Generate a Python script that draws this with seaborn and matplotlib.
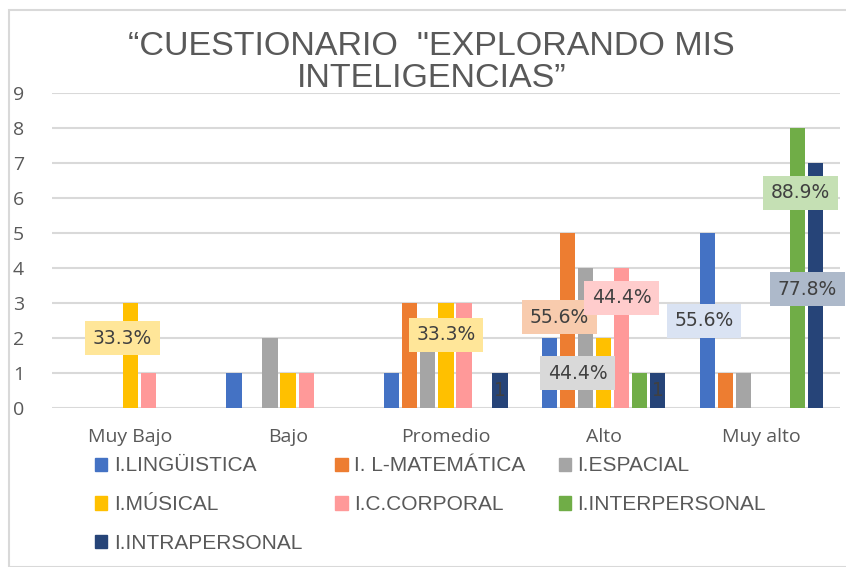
import matplotlib
matplotlib.use('Agg')
import matplotlib.pyplot as plt
from matplotlib.patches import Rectangle
import seaborn as sns
import pandas as pd

# data
categories = ['Muy Bajo', 'Bajo', 'Promedio', 'Alto', 'Muy alto']
series = ['I.LINGÜISTICA', 'I. L-MATEMÁTICA', 'I.ESPACIAL', 'I.MÚSICAL',
          'I.C.CORPORAL', 'I.INTERPERSONAL', 'I.INTRAPERSONAL']
linguistica = [0, 1, 1, 2, 5]
matematica = [0, 0, 3, 5, 1]
espacial = [0, 2, 2, 4, 1]
musical = [3, 1, 3, 2, 0]
corporal = [1, 1, 3, 4, 0]
interpersonal = [0, 0, 0, 1, 8]
intrapersonal = [0, 0, 1, 1, 7]
total = 9

colors = ['#4472C4', '#ED7D31', '#A5A5A5', '#FFC000', '#FF9999', '#70AD47', '#264478']
label_bg = ['#DAE3F3', '#F8CBAD', '#D9D9D9', '#FFE699', '#FFCCCC', '#C5E0B4', '#ADB9CA']

values = [linguistica, matematica, espacial, musical, corporal, interpersonal, intrapersonal]
rows = []
for s, vals in zip(series, values):
    for c, v in zip(categories, vals):
        rows.append({'Nivel': c, 'Inteligencia': s, 'Cantidad': v})
df = pd.DataFrame(rows)

# percentage labels: (series index, category index, label y, x shift)
pct_labels = [(3, 0, 2.0, -0.05), (3, 2, 2.1, 0.0), (1, 3, 2.6, -0.05),
              (2, 3, 1.0, -0.05), (4, 3, 3.15, 0.0), (0, 4, 2.5, -0.02),
              (5, 4, 6.15, 0.02), (6, 4, 3.4, -0.05)]
# count labels that remain visible on the dark bars
count_labels = [(6, 2), (6, 3)]

sns.set_style('white')
plt.rcParams['font.family'] = ['Open Sans', 'DejaVu Sans']

fig = plt.figure(figsize=(8.46, 5.67), dpi=100)
ax = fig.add_axes([0.061, 0.280, 0.932, 0.556])

sns.barplot(data=df, x='Nivel', y='Cantidad', hue='Inteligencia',
            palette=colors, saturation=1, width=0.8, gap=0.15, linewidth=0,
            legend=False, ax=ax)

ax.set_ylim(0, 9)
ax.set_yticks(range(0, 10))
ax.yaxis.grid(True, color='#D9D9D9', linewidth=1.5)
ax.set_axisbelow(True)
for sp in ax.spines.values():
    sp.set_visible(False)
ax.set_xlabel('')
ax.set_ylabel('')
ax.tick_params(axis='x', length=0, labelsize=14, labelcolor='#595959', pad=14)
ax.tick_params(axis='y', length=0, labelsize=14, labelcolor='#595959', pad=20)

for si, ci, ly, dx in pct_labels:
    bar = ax.containers[si][ci]
    xc = bar.get_x() + bar.get_width() / 2 + dx
    pct = values[si][ci] / total * 100
    ax.text(xc, ly, f'{pct:.1f}%', ha='center', va='center', fontsize=13.5,
            color='#404040', family=['DejaVu Sans'], zorder=5,
            bbox=dict(boxstyle='square,pad=0.4', fc=label_bg[si], ec='none'))

for si, ci in count_labels:
    bar = ax.containers[si][ci]
    xc = bar.get_x() + bar.get_width() / 2
    ax.text(xc, values[si][ci] / 2, str(values[si][ci]), ha='center', va='center',
            fontsize=13.5, color='#404040', family=['DejaVu Sans'], zorder=5)

fig.text(0.51, 0.890, '“CUESTIONARIO  "EXPLORANDO MIS\nINTELIGENCIAS”',
         ha='center', va='center', fontsize=24.5, color='#595959',
         family=['Liberation Sans'], linespacing=1.05)

# matplotlib fills legend columns first, reorder to get row-wise entries
order = [0, 3, 6, 1, 4, 2, 5]
handles = [Rectangle((0, 0), 1, 1, color=colors[i]) for i in order]
fig.legend(handles, [series[i] for i in order], loc='upper left',
           bbox_to_anchor=(0.090, 0.228),
           ncol=3, frameon=False, handlelength=0.6, handleheight=0.6,
           handletextpad=0.3, columnspacing=1.6, labelspacing=0.95,
           prop={'family': ['Liberation Sans'], 'size': 15},
           labelcolor='#595959')

fig.add_artist(Rectangle((0.011, 0.0), 1.2, 0.982, transform=fig.transFigure,
                         fill=False, ec='#D9D9D9', lw=1.5))

plt.savefig('out.png', dpi=100)
